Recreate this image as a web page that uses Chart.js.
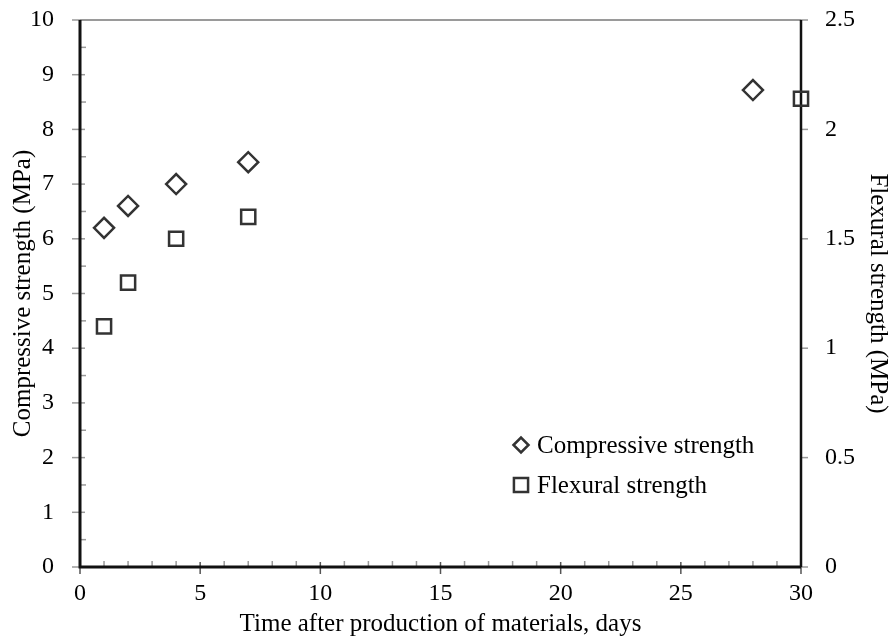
<!DOCTYPE html>
<html>
<head>
<meta charset="utf-8">
<script src="https://cdn.jsdelivr.net/npm/chart.js@4"></script>
<style>
  html, body { margin: 0; padding: 0; background: #fff; }
  #wrap { width: 896px; height: 641px; }
</style>
</head>
<body>
<div id="wrap"><canvas id="cv" width="896" height="641"></canvas></div>
<script>
// data
const compDays = [1, 2, 4, 7, 28];
const compValues = [6.2, 6.6, 7.0, 7.4, 8.72];
const flexDays = [1, 2, 4, 7, 30];
const flexValues = [1.1, 1.3, 1.5, 1.6, 2.14];

const xTicks = [0, 5, 10, 15, 20, 25, 30];
const yTicks = [0, 1, 2, 3, 4, 5, 6, 7, 8, 9, 10];
const y2Ticks = [0, 0.5, 1, 1.5, 2, 2.5];

const FONT = "'Liberation Serif', 'Times New Roman', serif";
const INK = "#333";

// axis lines, tick marks and the legend box drawn by hand
const frame = {
  id: "frame",
  beforeDatasetsDraw(chart) {
    const { ctx, chartArea: a, scales } = chart;
    const x = scales.x, y = scales.y, y2 = scales.y2;
    ctx.save();
    ctx.lineCap = "butt";

    // left: minor every 0.5 (inside), major crossing
    ctx.strokeStyle = "#999";
    ctx.lineWidth = 1.5;
    for (let v = 0.5; v < 10; v += 1) {
      const py = y.getPixelForValue(v);
      ctx.beginPath(); ctx.moveTo(a.left, py); ctx.lineTo(a.left + 6, py); ctx.stroke();
    }
    yTicks.forEach(v => {
      const py = y.getPixelForValue(v);
      ctx.beginPath(); ctx.moveTo(a.left - 8, py); ctx.lineTo(a.left + 5, py); ctx.stroke();
    });
    // right: major outward
    y2Ticks.forEach(v => {
      const py = y2.getPixelForValue(v);
      ctx.beginPath(); ctx.moveTo(a.right, py); ctx.lineTo(a.right + 7, py); ctx.stroke();
    });
    // bottom: minor each day (inside), major crossing
    for (let d = 1; d < 30; d++) {
      if (d % 5 === 0) continue;
      const px = x.getPixelForValue(d);
      ctx.beginPath(); ctx.moveTo(px, a.bottom); ctx.lineTo(px, a.bottom - 6); ctx.stroke();
    }
    ctx.strokeStyle = "#555";
    xTicks.forEach(d => {
      const px = x.getPixelForValue(d);
      ctx.beginPath(); ctx.moveTo(px, a.bottom - 5); ctx.lineTo(px, a.bottom + 7); ctx.stroke();
    });

    // top border
    ctx.strokeStyle = "#9a9a9a";
    ctx.lineWidth = 2;
    ctx.beginPath(); ctx.moveTo(a.left, a.top); ctx.lineTo(a.right, a.top); ctx.stroke();
    // right axis
    ctx.strokeStyle = "#111";
    ctx.lineWidth = 2.5;
    ctx.beginPath(); ctx.moveTo(a.right, a.top); ctx.lineTo(a.right, a.bottom); ctx.stroke();
    // left + bottom axes
    ctx.lineWidth = 3;
    ctx.beginPath();
    ctx.moveTo(a.left, a.top); ctx.lineTo(a.left, a.bottom); ctx.lineTo(a.right, a.bottom);
    ctx.stroke();
    ctx.restore();
  },
  afterDraw(chart) {
    const { ctx, chartArea: a } = chart;
    const lx = a.left + 441, ly = a.bottom - 122, gap = 40;
    ctx.save();
    ctx.font = "25px " + FONT;
    ctx.textBaseline = "middle";
    chart.data.datasets.forEach((ds, i) => {
      const cy = ly + i * gap;
      ctx.fillStyle = "#fff";
      ctx.strokeStyle = INK;
      ctx.lineWidth = 2.5;
      Chart.helpers.drawPoint(ctx, {
        pointStyle: ds.pointStyle,
        radius: ds.pointStyle === "rect" ? 10 : 7.5,
        borderWidth: 2.5
      }, lx, cy);
      ctx.fillStyle = "#000";
      ctx.fillText(ds.label, lx + 16, cy + 1);
    });
    ctx.restore();
  }
};

const tickFont = { family: FONT, size: 24 };
const titleFont = { family: FONT, size: 25 };

// keep the plot box where the figure has it: no extra room for label overhang
function noOverhang(s) {
  s.paddingTop = 0; s.paddingBottom = 0;
  s.paddingLeft = 0; s.paddingRight = 0;
}

new Chart(document.getElementById("cv"), {
  type: "scatter",
  data: {
    datasets: [
      {
        label: "Compressive strength",
        data: compDays.map((d, i) => ({ x: d, y: compValues[i] })),
        yAxisID: "y",
        pointStyle: "rectRot",
        pointRadius: 10,
        pointBorderWidth: 2.5,
        pointBorderColor: INK,
        pointBackgroundColor: "rgba(255,255,255,0)",
        clip: false
      },
      {
        label: "Flexural strength",
        data: flexDays.map((d, i) => ({ x: d, y: flexValues[i] })),
        yAxisID: "y2",
        pointStyle: "rect",
        pointRadius: 10,
        pointBorderWidth: 2.5,
        pointBorderColor: INK,
        pointBackgroundColor: "rgba(255,255,255,0)",
        clip: false
      }
    ]
  },
  options: {
    responsive: false,
    animation: false,
    events: [],
    layout: { padding: { top: 20, left: 0, right: 0, bottom: 0 } },
    plugins: {
      legend: { display: false },
      tooltip: { enabled: false }
    },
    scales: {
      x: {
        type: "linear",
        min: 0, max: 30,
        afterBuildTicks: s => { s.ticks = xTicks.map(v => ({ value: v })); },
        afterFit: s => { s.height = 74; noOverhang(s); },
        ticks: { font: tickFont, color: "#000", padding: 4, maxRotation: 0 },
        grid: { display: false },
        border: { display: false },
        title: {
          display: true,
          text: "Time after production of materials, days",
          font: titleFont, color: "#000",
          padding: { top: 0, bottom: 2 }
        }
      },
      y: {
        position: "left",
        min: 0, max: 10,
        afterBuildTicks: s => { s.ticks = yTicks.map(v => ({ value: v })); },
        afterFit: s => { s.width = 80; noOverhang(s); },
        ticks: { font: tickFont, color: "#000", padding: 18 },
        grid: { display: false },
        border: { display: false },
        title: {
          display: true,
          text: "Compressive strength (MPa)",
          font: titleFont, color: "#000",
          padding: { top: 8, bottom: 0 }
        }
      },
      y2: {
        position: "right",
        min: 0, max: 2.5,
        afterBuildTicks: s => { s.ticks = y2Ticks.map(v => ({ value: v })); },
        afterFit: s => { s.width = 95; noOverhang(s); },
        ticks: { font: tickFont, color: "#000", padding: 16, callback: v => String(+v) },
        grid: { display: false },
        border: { display: false },
        title: {
          display: true,
          text: "Flexural strength (MPa)",
          font: titleFont, color: "#000",
          padding: { top: 3, bottom: 0 }
        }
      }
    }
  },
  plugins: [frame]
});
</script>
</body>
</html>
